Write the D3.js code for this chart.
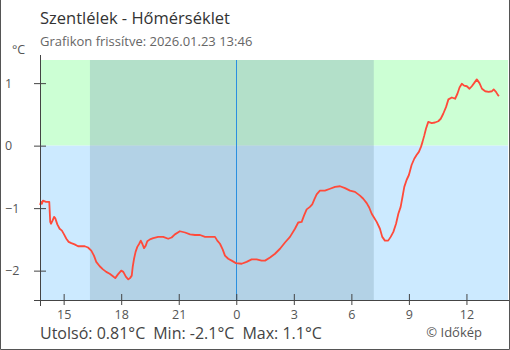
<!DOCTYPE html>
<html>
<head>
<meta charset="utf-8">
<script src="https://cdn.jsdelivr.net/npm/d3@7"></script>
<style>
  html, body { margin: 0; padding: 0; background: #fff; }
  svg { display: block; font-family: "Open Sans", "Noto Sans", sans-serif; }
</style>
</head>
<body>
<svg id="chart" width="510" height="350"></svg>
<script>
// Temperature readings: hours relative to midnight of 2026-01-23 (negative = previous day)
const hours = [
  -10.23, -10.18, -10.13, -10.08, -9.92, -9.75, -9.70, -9.66, -9.58, -9.50,
  -9.44, -9.33, -9.21, -9.09, -8.98, -8.86, -8.74, -8.60, -8.43, -8.25,
  -8.08, -7.90, -7.73, -7.56, -7.42, -7.30, -7.12, -6.95, -6.78, -6.60,
  -6.43, -6.31, -6.17, -6.00, -5.89, -5.75, -5.63, -5.54, -5.45, -5.40,
  -5.33, -5.25, -5.16, -5.06, -4.98, -4.90, -4.81, -4.72, -4.64, -4.50,
  -4.33, -4.07, -3.81, -3.55, -3.37, -3.20, -2.94, -2.67, -2.41, -2.15,
  -1.89, -1.63, -1.37, -1.11, -0.99, -0.85, -0.71, -0.59, -0.42, -0.24,
  -0.02, 0.28, 0.54, 0.80, 1.06, 1.32, 1.50, 1.76, 2.02, 2.28,
  2.54, 2.80, 3.06, 3.23, 3.41, 3.53, 3.67, 3.84, 3.96, 4.07,
  4.19, 4.36, 4.62, 4.89, 5.15, 5.41, 5.67, 5.93, 6.19, 6.45,
  6.62, 6.80, 6.93, 7.06, 7.18, 7.32, 7.49, 7.61, 7.75, 7.92,
  8.05, 8.19, 8.33, 8.45, 8.57, 8.66, 8.76, 8.88, 9.00, 9.14,
  9.28, 9.40, 9.52, 9.63, 9.71, 9.80, 9.89, 10.01, 10.19, 10.36,
  10.53, 10.66, 10.79, 10.94, 11.06, 11.24, 11.41, 11.53, 11.64, 11.76,
  11.88, 12.02, 12.16, 12.28, 12.40, 12.54, 12.68, 12.81, 12.98, 13.16,
  13.33, 13.42, 13.54, 13.66, 13.70
];
const temps = [
  -0.95, -0.90, -0.93, -0.88, -0.90, -0.90, -1.22, -1.25, -1.20, -1.14,
  -1.16, -1.26, -1.33, -1.36, -1.42, -1.49, -1.54, -1.56, -1.58, -1.61,
  -1.61, -1.61, -1.63, -1.68, -1.76, -1.86, -1.93, -1.98, -2.02, -2.05,
  -2.09, -2.12, -2.06, -2.00, -2.02, -2.10, -2.14, -2.12, -2.08, -1.94,
  -1.81, -1.70, -1.62, -1.57, -1.52, -1.57, -1.64, -1.60, -1.53, -1.50,
  -1.48, -1.46, -1.46, -1.49, -1.47, -1.42, -1.37, -1.39, -1.42, -1.43,
  -1.43, -1.46, -1.46, -1.46, -1.52, -1.57, -1.66, -1.76, -1.81, -1.84,
  -1.88, -1.89, -1.86, -1.82, -1.82, -1.84, -1.84, -1.79, -1.73, -1.65,
  -1.55, -1.46, -1.33, -1.23, -1.22, -1.12, -1.02, -0.98, -0.94, -0.86,
  -0.78, -0.72, -0.72, -0.69, -0.66, -0.65, -0.68, -0.72, -0.74, -0.80,
  -0.85, -0.92, -0.99, -1.09, -1.15, -1.22, -1.33, -1.46, -1.52, -1.52,
  -1.46, -1.38, -1.25, -1.09, -0.98, -0.83, -0.66, -0.55, -0.47, -0.31,
  -0.21, -0.15, -0.10, -0.02, 0.06, 0.16, 0.27, 0.38, 0.36, 0.37,
  0.39, 0.43, 0.51, 0.62, 0.74, 0.77, 0.75, 0.83, 0.93, 0.99,
  0.96, 0.95, 0.91, 0.95, 1.00, 1.06, 1.00, 0.91, 0.87, 0.86,
  0.87, 0.90, 0.86, 0.80, 0.81
];

const yTicks = [-2, -1, 0, 1];
const xTickHours = [15, 18, 21, 0, 3, 6, 9, 12];
const yDomain = [-2.47, 1.37];
const timeDomain = [-10.2333, 14.1667];   // 13:46 previous day .. 14:10
const night = [-7.63, 7.17];               // sunset 16:22 .. sunrise 07:10

const titleText = "Szentlélek - Hőmérséklet";
const subtitleText = "Grafikon frissítve: 2026.01.23 13:46";
const unitText = "°C";
const creditText = "© Időkép";

const midnight = new Date(2026, 0, 23, 0, 0, 0);
const toDate = h => new Date(midnight.getTime() + h * 3600e3);

const data = hours.map((h, i) => ({ t: toDate(h), v: temps[i] }));

const svg = d3.select("#chart");
const plotL = 40, plotR = 508, plotT = 60, plotB = 300;

const x = d3.scaleTime().domain(timeDomain.map(toDate)).range([plotL, plotR]);
const y = d3.scaleLinear().domain(yDomain).range([plotB, plotT]);

// Background zones: above / below freezing
svg.append("rect")
  .attr("x", plotL).attr("y", plotT)
  .attr("width", plotR - plotL).attr("height", y(0) - plotT)
  .attr("fill", "#ccffd4");
svg.append("rect")
  .attr("x", plotL).attr("y", y(0))
  .attr("width", plotR - plotL).attr("height", plotB - y(0))
  .attr("fill", "#cceaff");

// Night band
svg.append("rect")
  .attr("x", x(toDate(night[0]))).attr("y", plotT)
  .attr("width", x(toDate(night[1])) - x(toDate(night[0])))
  .attr("height", plotB - plotT)
  .attr("fill", "rgba(128,158,178,0.32)");

// Midnight marker
svg.append("line")
  .attr("x1", x(midnight)).attr("x2", x(midnight))
  .attr("y1", plotT).attr("y2", plotB)
  .attr("stroke", "#2a8fe0").attr("stroke-width", 1)
  .attr("shape-rendering", "crispEdges");

// Temperature line
const line = d3.line().x(d => x(d.t)).y(d => y(d.v));
svg.append("path")
  .datum(data)
  .attr("d", line)
  .attr("fill", "none")
  .attr("stroke", "#ff4a3a")
  .attr("stroke-width", 1.8)
  .attr("stroke-linejoin", "round");

// X axis
const xAxis = svg.append("g")
  .attr("transform", `translate(0,${plotB})`)
  .call(d3.axisBottom(x)
    .tickValues(xTickHours.map(h => toDate(h > 13 ? h - 24 : h)))
    .tickFormat(d3.timeFormat("%-H"))
    .tickSize(5)
    .tickPadding(5.5));
xAxis.select(".domain").remove();
xAxis.selectAll(".tick line").attr("y1", -6).attr("y2", 5).attr("stroke", "#444");
xAxis.selectAll(".tick text")
  .attr("fill", "#555").attr("font-size", 12.5)
  .attr("font-family", "Open Sans, Noto Sans, sans-serif");
svg.append("line")
  .attr("x1", 34).attr("x2", 509).attr("y1", plotB).attr("y2", plotB)
  .attr("stroke", "#444").attr("shape-rendering", "crispEdges");

// Y axis
const yAxis = svg.append("g")
  .attr("transform", `translate(${plotL},0)`)
  .call(d3.axisLeft(y).tickValues(yTicks).tickFormat(d3.format("d")).tickSize(6));
yAxis.select(".domain").remove();
yAxis.selectAll(".tick line").attr("x1", -6).attr("x2", 6).attr("stroke", "#444");
yAxis.selectAll(".tick text")
  .attr("text-anchor", "start").attr("x", -35)
  .attr("fill", "#555").attr("font-size", 12.5)
  .attr("font-family", "Open Sans, Noto Sans, sans-serif");
svg.append("line")
  .attr("x1", plotL).attr("x2", plotL).attr("y1", 55).attr("y2", 306)
  .attr("stroke", "#444").attr("shape-rendering", "crispEdges");

// Titles
svg.append("text").attr("x", 40).attr("y", 24)
  .attr("font-size", 16.5).attr("fill", "#333").text(titleText);
svg.append("text").attr("x", 40).attr("y", 46)
  .attr("font-size", 13).attr("fill", "#666").text(subtitleText);
svg.append("text").attr("x", 12).attr("y", 54)
  .attr("font-size", 12.5).attr("fill", "#555").text(unitText);

// Summary line: last, min, max
const last = temps[temps.length - 1];
const tMin = d3.min(temps), tMax = d3.max(temps);
const summary = svg.append("text").attr("x", 40).attr("y", 339)
  .attr("font-size", 16).attr("fill", "#444");
summary.append("tspan").text(`Utolsó: ${last.toFixed(2)}°C`);
summary.append("tspan").attr("dx", 8).text(`Min: ${tMin.toFixed(1)}°C`);
summary.append("tspan").attr("dx", 8).text(`Max: ${tMax.toFixed(1)}°C`);

svg.append("text").attr("x", 482).attr("y", 337)
  .attr("text-anchor", "end")
  .attr("font-size", 13).attr("fill", "#555").text(creditText);

// Frame
svg.append("path")
  .attr("d", "M0.5,0 V349.5 H509.5 V0")
  .attr("fill", "none").attr("stroke", "#555");
</script>
</body>
</html>
